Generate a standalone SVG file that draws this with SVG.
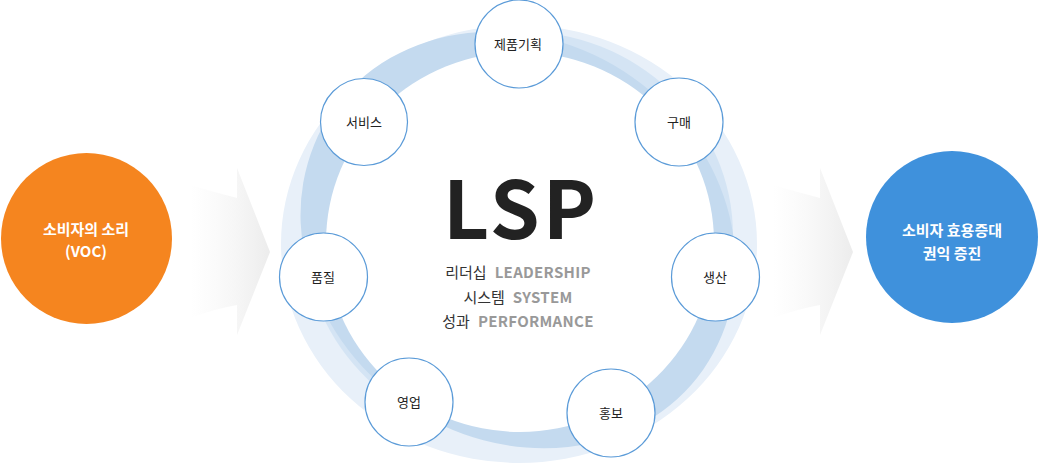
<svg xmlns="http://www.w3.org/2000/svg" width="1038" height="464" viewBox="0 0 1038 464">
<defs>
<linearGradient id="arrowGrad" x1="0" y1="0" x2="1" y2="0">
<stop offset="0" stop-color="#f4f4f4" stop-opacity="0"/>
<stop offset="1" stop-color="#ececec" stop-opacity="1"/>
</linearGradient>
<style>
.node circle{fill:#ffffff;stroke:#5b9bd8;stroke-width:1.2}
.node text{font-family:"Noto Sans CJK KR","Noto Sans",sans-serif;font-size:13px;fill:#222222;text-anchor:middle}
.big text{font-family:"Noto Sans CJK KR","Noto Sans",sans-serif;font-size:15px;fill:#ffffff;text-anchor:middle;font-weight:700}
.sub{font-family:"Noto Sans CJK KR","Noto Sans",sans-serif;font-size:15px;fill:#333333;text-anchor:middle}
.sub .en{fill:#999999;font-weight:700;letter-spacing:0.3px}
</style>
</defs>
<g id="ring">
<path fill="#e8f0f9" fill-rule="evenodd" d="M281,244 A238,219 0 1,1 757,244 A238,219 0 1,1 281,244 Z M326,242 A194,190 0 1,0 714,242 A194,190 0 1,0 326,242 Z"/>
<ellipse cx="519" cy="235" rx="214" ry="204" fill="#d4e4f4"/>
<path fill="#c4daef" transform="rotate(35 518 240)" d="M292,240 A226,199 0 1,1 744,240 A226,199 0 1,1 292,240 Z"/>
<ellipse cx="520" cy="242" rx="194" ry="190" fill="#ffffff"/>
</g>
<g id="connectors">
<path fill="url(#arrowGrad)" d="M190,185 Q214,192 237,198 L237,168 L270,252 L237,335 L237,305 Q214,309 190,318 Z"/>
<path fill="url(#arrowGrad)" d="M773,185 Q797,192 820,198 L820,168 L853,252 L820,335 L820,305 Q797,309 773,318 Z"/>
</g>
<g id="voc" class="big">
<circle cx="86.5" cy="238.5" r="85.5" fill="#f5851f"/>
<text x="86" y="235">소비자의 소리</text>
<text x="86" y="257">(VOC)</text>
</g>
<g id="benefit" class="big">
<circle cx="952" cy="237" r="86" fill="#3f91dc"/>
<text x="952" y="236">소비자 효용증대</text>
<text x="952" y="259">권익 증진</text>
</g>
<g id="lsp">
<text x="521" y="239" font-family="'Noto Sans CJK KR','Noto Sans',sans-serif" font-size="80" font-weight="700" letter-spacing="3" fill="#222222" text-anchor="middle">LSP</text>
<text class="sub" x="518" y="278">리더십<tspan class="en" dx="8">LEADERSHIP</tspan></text>
<text class="sub" x="518" y="302.5">시스템<tspan class="en" dx="8">SYSTEM</tspan></text>
<text class="sub" x="518" y="327">성과<tspan class="en" dx="8">PERFORMANCE</tspan></text>
</g>
<g id="n1" class="node"><circle cx="519" cy="44" r="44"/><text x="518" y="49">제품기획</text></g>
<g id="n2" class="node"><circle cx="679" cy="122" r="44"/><text x="679" y="127">구매</text></g>
<g id="n3" class="node"><circle cx="715.5" cy="277" r="44"/><text x="715" y="282">생산</text></g>
<g id="n4" class="node"><circle cx="611" cy="413" r="44"/><text x="611" y="418">홍보</text></g>
<g id="n5" class="node"><circle cx="409" cy="402" r="44"/><text x="409" y="407">영업</text></g>
<g id="n6" class="node"><circle cx="323.5" cy="277" r="44"/><text x="323" y="282">품질</text></g>
<g id="n7" class="node"><circle cx="364" cy="122" r="43.5"/><text x="364" y="127">서비스</text></g>
</svg>
